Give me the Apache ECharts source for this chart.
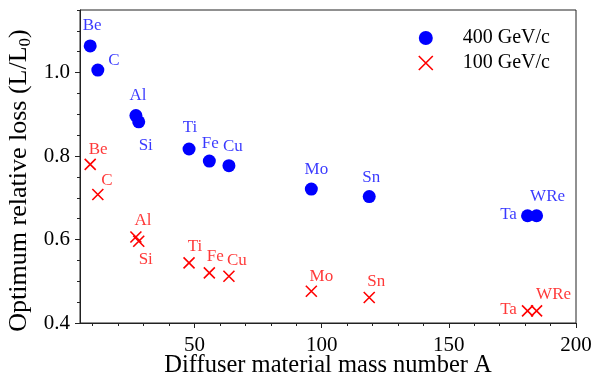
<!DOCTYPE html>
<html>
<head>
<meta charset="utf-8">
<script src="https://cdn.jsdelivr.net/npm/echarts@6.0.0/dist/echarts.min.js"></script>
<style>
  html, body { margin: 0; padding: 0; background: #fff; }
  #chart { width: 593px; height: 383px; }
</style>
</head>
<body>
<div id="chart"></div>
<script>
// Diffuser materials and their mass numbers
const elements = ['Be', 'C', 'Al', 'Si', 'Ti', 'Fe', 'Cu', 'Mo', 'Sn', 'Ta', 'WRe'];
const massNumbers = [9.01, 12.01, 26.98, 28.09, 47.87, 55.85, 63.55, 95.95, 118.71, 180.95, 184.5];

// Optimum relative loss L/L0 for each beam momentum
const loss400 = [1.064, 1.006, 0.897, 0.882, 0.817, 0.788, 0.777, 0.721, 0.703, 0.657, 0.657];
const loss100 = [0.780, 0.708, 0.606, 0.596, 0.544, 0.520, 0.512, 0.476, 0.461, 0.429, 0.429];

const seriesNames = ['400 GeV/c', '100 GeV/c'];

// Axis ticks
const xMajorTicks = [50, 100, 150, 200];
const xMinorTicks = [10, 20, 30, 40, 60, 70, 80, 90, 110, 120, 130, 140, 160, 170, 180, 190];
const yMajorTicks = [0.4, 0.6, 0.8, 1.0];
const yMinorTicks = [0.45, 0.5, 0.55, 0.65, 0.7, 0.75, 0.85, 0.9, 0.95, 1.05, 1.1, 1.15];

// Label placement (pixel offset from each marker)
const labelOffset400 = {
  Be: [2, -20], C: [16, -10], Al: [2, -20], Si: [7, 24], Ti: [1, -21], Fe: [1, -18],
  Cu: [4, -19], Mo: [5, -20], Sn: [2, -19], Ta: [-19, -1], WRe: [11, -19]
};
const labelOffset100 = {
  Be: [8, -15], C: [9, -14], Al: [7, -16], Si: [7, 18], Ti: [6, -16], Fe: [6, -16],
  Cu: [8, -16], Mo: [10, -15], Sn: [7, -16], Ta: [-19, -1], WRe: [17, -16]
};

const FONT = '"Liberation Serif", "DejaVu Serif", serif';
const AXIS_COLOR = '#222';
const CROSS = 'path://M0,0L10,10M10,0L0,10';

function points(values, offsets) {
  return elements.map((el, i) => ({
    name: el,
    value: [massNumbers[i], values[i]],
    label: { offset: offsets[el] }
  }));
}

function baseAxis(extra) {
  return Object.assign({
    type: 'value',
    gridIndex: 0,
    splitLine: { show: false },
    axisLine: { show: false },
    axisLabel: { show: false },
    axisTick: { show: false }
  }, extra);
}

const chart = echarts.init(document.getElementById('chart'), null, { renderer: 'canvas' });

chart.setOption({
  animation: false,
  backgroundColor: '#fff',
  grid: {
    left: 80, top: 10, right: 17, bottom: 60,
    outerBoundsMode: 'none',
    containLabel: false,
    show: true, borderColor: AXIS_COLOR, borderWidth: 1, backgroundColor: 'transparent'
  },
  legend: {
    orient: 'vertical',
    left: 413, top: 23,
    itemWidth: 14, itemHeight: 14, itemGap: 5,
    selectedMode: false,
    textStyle: { fontFamily: FONT, fontSize: 20, color: '#000', padding: [0, 0, 0, 25] },
    data: [
      { name: seriesNames[0], icon: 'circle' },
      { name: seriesNames[1], icon: CROSS, itemStyle: { color: 'transparent', borderColor: '#ff0000', borderWidth: 1.6 } }
    ]
  },
  xAxis: [
    baseAxis({
      min: 5, max: 200, position: 'bottom',
      name: 'Diffuser material mass number A',
      nameLocation: 'middle', nameGap: 30, nameMoveOverlap: false,
      nameTextStyle: { fontFamily: FONT, fontSize: 24.5, color: '#000' },
      axisLine: { show: true, lineStyle: { color: AXIS_COLOR, width: 1 } },
      axisTick: { show: true, length: 5, customValues: xMajorTicks, lineStyle: { color: AXIS_COLOR } },
      axisLabel: {
        show: true, margin: 12, customValues: xMajorTicks,
        fontFamily: FONT, fontSize: 21, color: '#000'
      }
    }),
    baseAxis({
      min: 5, max: 200, position: 'bottom',
      axisTick: { show: true, length: 3, customValues: xMinorTicks, lineStyle: { color: AXIS_COLOR } }
    })
  ],
  yAxis: [
    baseAxis({
      min: 0.4, max: 1.15, position: 'left',
      name: '{t|Optimum relative loss (L/L}{s|0}{t|)}',
      nameLocation: 'middle', nameGap: 46, nameMoveOverlap: false,
      nameTextStyle: {
        fontFamily: FONT, fontSize: 26, color: '#000', padding: [0, 28, 0, 0],
        rich: {
          t: { fontFamily: FONT, fontSize: 26, color: '#000', lineHeight: 30 },
          s: { fontFamily: FONT, fontSize: 17, color: '#000', lineHeight: 15, verticalAlign: 'bottom' }
        }
      },
      axisLine: { show: true, lineStyle: { color: AXIS_COLOR, width: 1 } },
      axisTick: { show: true, length: 5, customValues: yMajorTicks, lineStyle: { color: AXIS_COLOR } },
      axisLabel: {
        show: true, margin: 10, customValues: yMajorTicks,
        formatter: v => v.toFixed(1),
        fontFamily: FONT, fontSize: 21, color: '#000'
      }
    }),
    baseAxis({
      min: 0.4, max: 1.15, position: 'left',
      axisTick: { show: true, length: 3, customValues: yMinorTicks, lineStyle: { color: AXIS_COLOR } }
    })
  ],
  series: [
    {
      name: seriesNames[0],
      type: 'scatter',
      xAxisIndex: 0, yAxisIndex: 0,
      symbol: 'circle', symbolSize: 13,
      itemStyle: { color: '#0000ff', opacity: 1 },
      label: {
        show: true, position: 'inside', formatter: '{b}',
        fontFamily: FONT, fontSize: 17, color: 'rgba(0,0,255,0.78)'
      },
      data: points(loss400, labelOffset400)
    },
    {
      name: seriesNames[1],
      type: 'scatter',
      xAxisIndex: 0, yAxisIndex: 0,
      symbol: CROSS, symbolSize: 11,
      itemStyle: { color: 'transparent', borderColor: '#ff0000', borderWidth: 1.6, opacity: 1 },
      label: {
        show: true, position: 'inside', formatter: '{b}',
        fontFamily: FONT, fontSize: 17, color: 'rgba(255,0,0,0.78)'
      },
      data: points(loss100, labelOffset100)
    }
  ]
});
</script>
</body>
</html>
